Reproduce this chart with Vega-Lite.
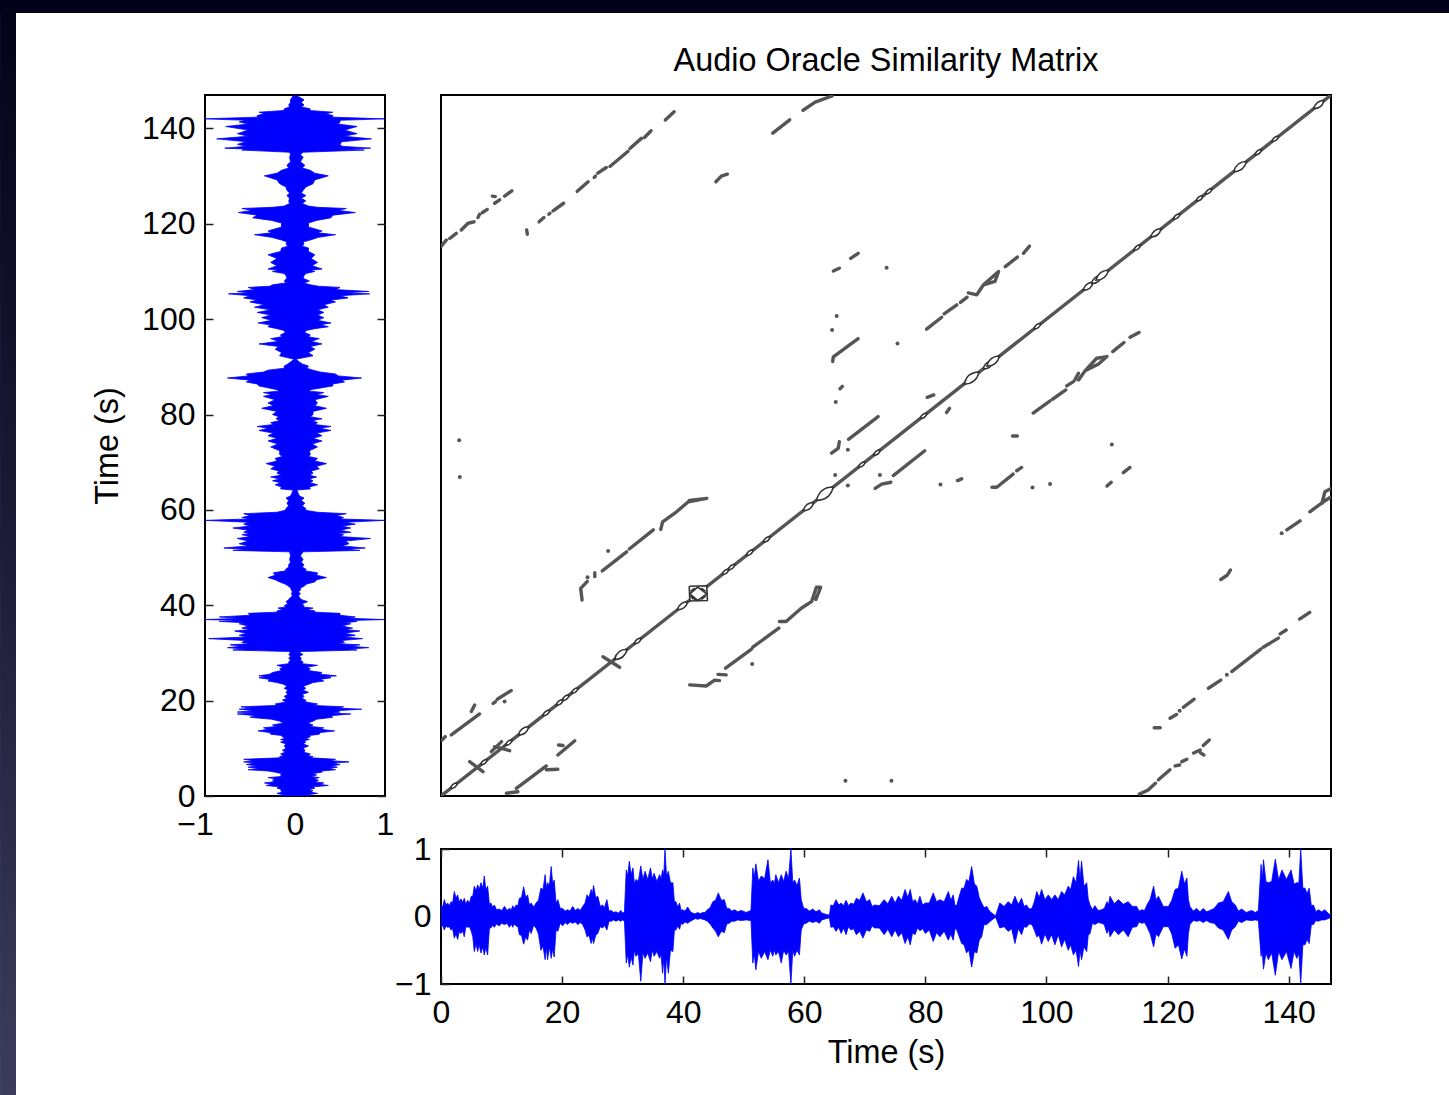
{
"$schema":"https://vega.github.io/schema/vega-lite/v6.json",
"background":"white","padding":0,
"align":"each","bounds":"flush","columns":2,"spacing":{"column":56,"row":53},
"config":{"font":"Liberation Sans","axis":{"labelFont":"Liberation Sans","titleFont":"Liberation Sans","labelFontSize":32,"titleFontSize":32.4,"titleFontWeight":"normal","labelColor":"#000","titleColor":"#000","tickColor":"#222","tickWidth":1.5,"tickSize":-8,"domain":false,"grid":false,"labelPadding":18,"labelOverlap":false,"labelFlush":false},"title":{"font":"Liberation Sans","fontSize":32.4,"fontWeight":"normal","color":"#000"}},
"datasets":{
"frame":[{"x":-1.1388,"x2":-1.05,"y":-0.8222,"y2":7.2888}],
"frametop":[{"x":-1.1388,"x2":6.9111,"y":7.193,"y2":7.2888}],
"one":[{"a":0,"b":0}],
"wave":[
{"t":0,"hi":0.17,"lo":-0.17},{"t":0.28,"hi":0.14,"lo":-0.13},{"t":0.55,"hi":0.25,"lo":-0.2},{"t":0.82,"hi":0.17,"lo":-0.14},{"t":1.1,"hi":0.2,"lo":-0.16},{"t":1.38,"hi":0.16,"lo":-0.15},{"t":1.65,"hi":0.22,"lo":-0.2},{"t":1.92,"hi":0.2,"lo":-0.18},{"t":2.2,"hi":0.37,"lo":-0.32},{"t":2.48,"hi":0.27,"lo":-0.26},{"t":2.75,"hi":0.32,"lo":-0.34},{"t":3,"hi":0.22,"lo":-0.23},{"t":3.3,"hi":0.26,"lo":-0.25},{"t":3.6,"hi":0.21,"lo":-0.22},{"t":3.85,"hi":0.27,"lo":-0.3},{"t":4.1,"hi":0.18,"lo":-0.15},{"t":4.4,"hi":0.24,"lo":-0.16},{"t":4.7,"hi":0.2,"lo":-0.15},{"t":5,"hi":0.3,"lo":-0.22},{"t":5.25,"hi":0.3,"lo":-0.3},{"t":5.5,"hi":0.45,"lo":-0.52},{"t":5.8,"hi":0.38,"lo":-0.4},{"t":6.05,"hi":0.47,"lo":-0.52},{"t":6.3,"hi":0.4,"lo":-0.42},{"t":6.6,"hi":0.5,"lo":-0.54},{"t":6.9,"hi":0.42,"lo":-0.45},{"t":7.15,"hi":0.6,"lo":-0.57},{"t":7.4,"hi":0.4,"lo":-0.46},{"t":7.7,"hi":0.45,"lo":-0.57},{"t":8,"hi":0.18,"lo":-0.17},{"t":8.25,"hi":0.2,"lo":-0.17},{"t":8.5,"hi":0.14,"lo":-0.13},{"t":8.8,"hi":0.17,"lo":-0.16},{"t":9.2,"hi":0.1,"lo":-0.11},{"t":9.6,"hi":0.11,"lo":-0.14},{"t":10,"hi":0.09,"lo":-0.1},{"t":10.5,"hi":0.15,"lo":-0.12},{"t":10.9,"hi":0.09,"lo":-0.1},{"t":11.3,"hi":0.12,"lo":-0.16},{"t":11.6,"hi":0.1,"lo":-0.11},{"t":11.85,"hi":0.16,"lo":-0.16},{"t":12.1,"hi":0.12,"lo":-0.11},{"t":12.4,"hi":0.17,"lo":-0.14},{"t":12.7,"hi":0.16,"lo":-0.15},{"t":12.95,"hi":0.27,"lo":-0.27},{"t":13.3,"hi":0.28,"lo":-0.28},{"t":13.65,"hi":0.44,"lo":-0.41},{"t":14,"hi":0.28,"lo":-0.3},{"t":14.3,"hi":0.32,"lo":-0.35},{"t":14.6,"hi":0.17,"lo":-0.2},{"t":14.9,"hi":0.2,"lo":-0.25},{"t":15.3,"hi":0.14,"lo":-0.13},{"t":15.7,"hi":0.2,"lo":-0.17},{"t":16.1,"hi":0.24,"lo":-0.26},{"t":16.5,"hi":0.42,"lo":-0.5},{"t":16.85,"hi":0.4,"lo":-0.44},{"t":17.2,"hi":0.62,"lo":-0.64},{"t":17.4,"hi":0.42,"lo":-0.45},{"t":17.6,"hi":0.5,"lo":-0.64},{"t":17.9,"hi":0.46,"lo":-0.45},{"t":18.2,"hi":0.74,"lo":-0.62},{"t":18.45,"hi":0.48,"lo":-0.48},{"t":18.7,"hi":0.54,"lo":-0.6},{"t":19,"hi":0.2,"lo":-0.2},{"t":19.3,"hi":0.25,"lo":-0.22},{"t":19.7,"hi":0.12,"lo":-0.1},{"t":20.1,"hi":0.12,"lo":-0.14},{"t":20.5,"hi":0.08,"lo":-0.09},{"t":20.9,"hi":0.1,"lo":-0.12},{"t":21.3,"hi":0.08,"lo":-0.08},{"t":21.75,"hi":0.15,"lo":-0.1},{"t":22.2,"hi":0.09,"lo":-0.08},{"t":22.6,"hi":0.12,"lo":-0.12},{"t":23,"hi":0.09,"lo":-0.09},{"t":23.4,"hi":0.15,"lo":-0.12},{"t":23.8,"hi":0.2,"lo":-0.2},{"t":24.1,"hi":0.32,"lo":-0.3},{"t":24.45,"hi":0.28,"lo":-0.28},{"t":24.8,"hi":0.4,"lo":-0.4},{"t":25,"hi":0.33,"lo":-0.32},{"t":25.2,"hi":0.46,"lo":-0.4},{"t":25.55,"hi":0.28,"lo":-0.28},{"t":25.9,"hi":0.3,"lo":-0.25},{"t":26.3,"hi":0.15,"lo":-0.15},{"t":26.7,"hi":0.17,"lo":-0.17},{"t":27,"hi":0.13,"lo":-0.13},{"t":27.4,"hi":0.25,"lo":-0.2},{"t":27.75,"hi":0.08,"lo":-0.07},{"t":28.1,"hi":0.09,"lo":-0.07},{"t":28.5,"hi":0.06,"lo":-0.05},{"t":28.9,"hi":0.07,"lo":-0.07},{"t":29.3,"hi":0.05,"lo":-0.05},{"t":29.7,"hi":0.09,"lo":-0.07},{"t":30,"hi":0.05,"lo":-0.05},{"t":30.3,"hi":0.07,"lo":-0.07},{"t":30.6,"hi":0.69,"lo":-0.69},{"t":30.85,"hi":0.6,"lo":-0.56},{"t":31.1,"hi":0.82,"lo":-0.75},{"t":31.4,"hi":0.62,"lo":-0.6},{"t":31.7,"hi":0.72,"lo":-0.72},{"t":31.95,"hi":0.48,"lo":-0.5},{"t":32.2,"hi":0.55,"lo":-0.59},{"t":32.6,"hi":0.52,"lo":-0.55},{"t":33,"hi":0.75,"lo":-0.96},{"t":33.35,"hi":0.55,"lo":-0.54},{"t":33.7,"hi":0.67,"lo":-0.62},{"t":34.15,"hi":0.55,"lo":-0.54},{"t":34.6,"hi":0.72,"lo":-0.67},{"t":34.9,"hi":0.56,"lo":-0.5},{"t":35.2,"hi":0.64,"lo":-0.59},{"t":35.65,"hi":0.52,"lo":-0.52},{"t":36.1,"hi":0.62,"lo":-0.62},{"t":36.35,"hi":0.56,"lo":-0.56},{"t":36.6,"hi":0.69,"lo":-0.84},{"t":36.8,"hi":0.62,"lo":-0.62},{"t":37,"hi":1,"lo":-1},{"t":37.25,"hi":0.6,"lo":-0.6},{"t":37.55,"hi":0.67,"lo":-0.84},{"t":37.9,"hi":0.5,"lo":-0.5},{"t":38.3,"hi":0.5,"lo":-0.52},{"t":38.55,"hi":0.22,"lo":-0.2},{"t":38.8,"hi":0.22,"lo":-0.2},{"t":39.1,"hi":0.14,"lo":-0.14},{"t":39.4,"hi":0.2,"lo":-0.19},{"t":39.65,"hi":0.09,"lo":-0.1},{"t":39.9,"hi":0.1,"lo":-0.12},{"t":40.3,"hi":0.08,"lo":-0.08},{"t":40.75,"hi":0.14,"lo":-0.1},{"t":41.2,"hi":0.07,"lo":-0.07},{"t":41.6,"hi":0.05,"lo":-0.05},{"t":42,"hi":0.04,"lo":-0.03},{"t":42.4,"hi":0.06,"lo":-0.04},{"t":42.8,"hi":0.04,"lo":-0.03},{"t":43.2,"hi":0.06,"lo":-0.04},{"t":43.6,"hi":0.06,"lo":-0.05},{"t":44,"hi":0.1,"lo":-0.07},{"t":44.45,"hi":0.13,"lo":-0.11},{"t":44.9,"hi":0.22,"lo":-0.17},{"t":45.35,"hi":0.24,"lo":-0.22},{"t":45.8,"hi":0.35,"lo":-0.3},{"t":46.3,"hi":0.24,"lo":-0.22},{"t":46.8,"hi":0.25,"lo":-0.24},{"t":47.2,"hi":0.12,"lo":-0.11},{"t":47.6,"hi":0.12,"lo":-0.1},{"t":48,"hi":0.08,"lo":-0.07},{"t":48.5,"hi":0.1,"lo":-0.07},{"t":49,"hi":0.07,"lo":-0.05},{"t":49.6,"hi":0.09,"lo":-0.06},{"t":50.4,"hi":0.06,"lo":-0.05},{"t":51.2,"hi":0.09,"lo":-0.06},{"t":51.5,"hi":0.72,"lo":-0.69},{"t":51.75,"hi":0.58,"lo":-0.55},{"t":52,"hi":0.78,"lo":-0.79},{"t":52.45,"hi":0.52,"lo":-0.52},{"t":52.9,"hi":0.6,"lo":-0.62},{"t":53.45,"hi":0.56,"lo":-0.52},{"t":54,"hi":0.84,"lo":-0.64},{"t":54.4,"hi":0.5,"lo":-0.5},{"t":54.8,"hi":0.54,"lo":-0.59},{"t":55.05,"hi":0.48,"lo":-0.5},{"t":55.3,"hi":0.62,"lo":-0.57},{"t":55.75,"hi":0.5,"lo":-0.52},{"t":56.2,"hi":0.62,"lo":-0.69},{"t":56.6,"hi":0.52,"lo":-0.5},{"t":57,"hi":0.67,"lo":-0.57},{"t":57.4,"hi":0.56,"lo":-0.52},{"t":57.8,"hi":1,"lo":-1},{"t":58.1,"hi":0.5,"lo":-0.5},{"t":58.4,"hi":0.54,"lo":-0.59},{"t":58.8,"hi":0.46,"lo":-0.5},{"t":59.2,"hi":0.57,"lo":-0.57},{"t":59.5,"hi":0.25,"lo":-0.2},{"t":59.9,"hi":0.12,"lo":-0.11},{"t":60.3,"hi":0.12,"lo":-0.1},{"t":60.85,"hi":0.08,"lo":-0.07},{"t":61.4,"hi":0.11,"lo":-0.09},{"t":61.95,"hi":0.07,"lo":-0.07},{"t":62.5,"hi":0.1,"lo":-0.1},{"t":62.9,"hi":0.05,"lo":-0.05},{"t":63.3,"hi":0.04,"lo":-0.04},{"t":64.15,"hi":0.02,"lo":-0.02},{"t":64.4,"hi":0.17,"lo":-0.16},{"t":64.8,"hi":0.16,"lo":-0.15},{"t":65.25,"hi":0.25,"lo":-0.22},{"t":65.7,"hi":0.17,"lo":-0.16},{"t":66.1,"hi":0.2,"lo":-0.25},{"t":66.5,"hi":0.16,"lo":-0.17},{"t":66.9,"hi":0.24,"lo":-0.27},{"t":67.3,"hi":0.16,"lo":-0.15},{"t":67.7,"hi":0.2,"lo":-0.2},{"t":68.15,"hi":0.18,"lo":-0.18},{"t":68.6,"hi":0.27,"lo":-0.27},{"t":69.15,"hi":0.24,"lo":-0.22},{"t":69.7,"hi":0.35,"lo":-0.32},{"t":70.25,"hi":0.22,"lo":-0.2},{"t":70.8,"hi":0.25,"lo":-0.22},{"t":71.2,"hi":0.15,"lo":-0.14},{"t":71.6,"hi":0.17,"lo":-0.17},{"t":72.4,"hi":0.16,"lo":-0.17},{"t":73.2,"hi":0.25,"lo":-0.27},{"t":73.8,"hi":0.19,"lo":-0.19},
{"t":74.45,"hi":0.3,"lo":-0.3},{"t":75,"hi":0.2,"lo":-0.2},{"t":75.55,"hi":0.3,"lo":-0.3},{"t":76.1,"hi":0.24,"lo":-0.24},{"t":76.65,"hi":0.4,"lo":-0.4},{"t":77.1,"hi":0.28,"lo":-0.3},{"t":77.5,"hi":0.4,"lo":-0.42},{"t":77.9,"hi":0.22,"lo":-0.24},{"t":78.3,"hi":0.25,"lo":-0.27},{"t":78.7,"hi":0.19,"lo":-0.17},{"t":79.1,"hi":0.3,"lo":-0.21},{"t":79.55,"hi":0.17,"lo":-0.18},{"t":80,"hi":0.2,"lo":-0.25},{"t":80.65,"hi":0.2,"lo":-0.2},{"t":81.3,"hi":0.35,"lo":-0.37},{"t":81.85,"hi":0.22,"lo":-0.24},{"t":82.4,"hi":0.25,"lo":-0.3},{"t":83.1,"hi":0.22,"lo":-0.22},{"t":83.8,"hi":0.37,"lo":-0.35},{"t":84.2,"hi":0.24,"lo":-0.26},{"t":84.6,"hi":0.32,"lo":-0.35},{"t":84.9,"hi":0.16,"lo":-0.18},{"t":85.2,"hi":0.17,"lo":-0.2},{"t":85.6,"hi":0.3,"lo":-0.3},{"t":86,"hi":0.42,"lo":-0.4},{"t":86.4,"hi":0.42,"lo":-0.42},{"t":86.8,"hi":0.55,"lo":-0.54},{"t":87.2,"hi":0.52,"lo":-0.5},{"t":87.65,"hi":0.74,"lo":-0.75},{"t":88.1,"hi":0.48,"lo":-0.52},{"t":88.5,"hi":0.45,"lo":-0.54},{"t":88.9,"hi":0.28,"lo":-0.35},{"t":89.3,"hi":0.2,"lo":-0.3},{"t":89.7,"hi":0.13,"lo":-0.12},{"t":90.15,"hi":0.15,"lo":-0.12},{"t":90.6,"hi":0.08,"lo":-0.08},{"t":91,"hi":0.05,"lo":-0.05},{"t":91.6,"hi":0.01,"lo":-0.01},{"t":92.3,"hi":0.2,"lo":-0.17},{"t":93,"hi":0.15,"lo":-0.15},{"t":93.7,"hi":0.22,"lo":-0.22},{"t":94.25,"hi":0.17,"lo":-0.18},{"t":94.8,"hi":0.3,"lo":-0.4},{"t":95.35,"hi":0.18,"lo":-0.18},{"t":95.9,"hi":0.27,"lo":-0.27},{"t":96.3,"hi":0.15,"lo":-0.15},{"t":96.7,"hi":0.17,"lo":-0.16},{"t":97.15,"hi":0.11,"lo":-0.11},{"t":97.6,"hi":0.12,"lo":-0.12},{"t":98,"hi":0.22,"lo":-0.2},{"t":98.4,"hi":0.37,"lo":-0.3},{"t":98.8,"hi":0.28,"lo":-0.28},{"t":99.2,"hi":0.4,"lo":-0.41},{"t":99.75,"hi":0.25,"lo":-0.26},{"t":100.3,"hi":0.32,"lo":-0.37},{"t":100.85,"hi":0.25,"lo":-0.27},{"t":101.4,"hi":0.32,"lo":-0.42},{"t":101.95,"hi":0.25,"lo":-0.27},{"t":102.5,"hi":0.37,"lo":-0.45},{"t":103,"hi":0.32,"lo":-0.34},{"t":103.6,"hi":0.45,"lo":-0.5},{"t":104,"hi":0.4,"lo":-0.42},{"t":104.45,"hi":0.59,"lo":-0.57},{"t":104.9,"hi":0.5,"lo":-0.5},{"t":105.3,"hi":0.83,"lo":-0.74},{"t":105.55,"hi":0.55,"lo":-0.5},{"t":105.8,"hi":0.82,"lo":-0.64},{"t":106.2,"hi":0.45,"lo":-0.45},{"t":106.65,"hi":0.5,"lo":-0.52},{"t":106.9,"hi":0.26,"lo":-0.28},{"t":107.2,"hi":0.17,"lo":-0.25},{"t":107.6,"hi":0.1,"lo":-0.1},{"t":108,"hi":0.16,"lo":-0.12},{"t":108.55,"hi":0.09,"lo":-0.09},{"t":109.1,"hi":0.1,"lo":-0.1},{"t":109.55,"hi":0.12,"lo":-0.12},{"t":110,"hi":0.22,"lo":-0.25},{"t":110.25,"hi":0.17,"lo":-0.18},{"t":110.5,"hi":0.3,"lo":-0.3},{"t":111.2,"hi":0.19,"lo":-0.2},{"t":111.9,"hi":0.25,"lo":-0.27},{"t":112.7,"hi":0.18,"lo":-0.2},{"t":113.5,"hi":0.22,"lo":-0.3},{"t":114.2,"hi":0.15,"lo":-0.16},{"t":114.9,"hi":0.15,"lo":-0.15},{"t":115.3,"hi":0.08,"lo":-0.08},{"t":115.75,"hi":0.1,"lo":-0.1},{"t":116.2,"hi":0.09,"lo":-0.09},{"t":116.6,"hi":0.17,"lo":-0.15},{"t":117.15,"hi":0.26,"lo":-0.26},{"t":117.7,"hi":0.45,"lo":-0.45},{"t":118.1,"hi":0.25,"lo":-0.26},{"t":118.5,"hi":0.3,"lo":-0.3},{"t":119.3,"hi":0.15,"lo":-0.15},{"t":120.15,"hi":0.15,"lo":-0.15},{"t":120.7,"hi":0.24,"lo":-0.26},{"t":121.25,"hi":0.4,"lo":-0.47},{"t":121.8,"hi":0.42,"lo":-0.42},{"t":122.35,"hi":0.67,"lo":-0.63},{"t":122.8,"hi":0.48,"lo":-0.48},{"t":123.2,"hi":0.57,"lo":-0.59},{"t":123.45,"hi":0.25,"lo":-0.25},{"t":123.7,"hi":0.15,"lo":-0.12},{"t":124.25,"hi":0.08,"lo":-0.06},{"t":124.8,"hi":0.12,"lo":-0.07},{"t":125.35,"hi":0.07,"lo":-0.06},{"t":125.9,"hi":0.12,"lo":-0.09},{"t":126.45,"hi":0.07,"lo":-0.06},{"t":127,"hi":0.09,"lo":-0.09},{"t":127.7,"hi":0.12,"lo":-0.1},{"t":128.4,"hi":0.2,"lo":-0.17},{"t":129.2,"hi":0.22,"lo":-0.2},{"t":130.05,"hi":0.37,"lo":-0.34},{"t":130.6,"hi":0.22,"lo":-0.2},{"t":131.2,"hi":0.17,"lo":-0.15},{"t":131.7,"hi":0.08,"lo":-0.07},{"t":132.25,"hi":0.11,"lo":-0.09},{"t":133,"hi":0.06,"lo":-0.05},{"t":133.9,"hi":0.09,"lo":-0.06},{"t":134.5,"hi":0.06,"lo":-0.05},{"t":135,"hi":0.09,"lo":-0.06},{"t":135.45,"hi":0.77,"lo":-0.59},{"t":135.65,"hi":0.55,"lo":-0.52},{"t":135.85,"hi":0.84,"lo":-0.78},{"t":136.25,"hi":0.52,"lo":-0.54},{"t":136.65,"hi":0.5,"lo":-0.64},{"t":137.2,"hi":0.52,"lo":-0.54},{"t":137.8,"hi":0.85,"lo":-0.87},{"t":138.35,"hi":0.54,"lo":-0.52},{"t":138.9,"hi":0.69,"lo":-0.64},{"t":139.65,"hi":0.55,"lo":-0.52},{"t":140.4,"hi":0.69,"lo":-0.77},{"t":140.9,"hi":0.48,"lo":-0.52},{"t":141.35,"hi":0.5,"lo":-0.62},{"t":141.7,"hi":0.5,"lo":-0.55},{"t":142,"hi":1,"lo":-1},{"t":142.35,"hi":0.42,"lo":-0.42},{"t":142.7,"hi":0.42,"lo":-0.42},{"t":143.05,"hi":0.34,"lo":-0.34},{"t":143.4,"hi":0.42,"lo":-0.4},{"t":143.75,"hi":0.16,"lo":-0.12},{"t":144.1,"hi":0.17,"lo":-0.12},{"t":144.5,"hi":0.07,"lo":-0.06},{"t":144.9,"hi":0.1,"lo":-0.07},{"t":145.45,"hi":0.07,"lo":-0.05},{"t":146,"hi":0.1,"lo":-0.05},{"t":146.85,"hi":0.02,"lo":-0.02}
],
"segs":[
{"s":"d1","x":0,"y":0},{"s":"d1","x":41,"y":41},{"s":"d2","x":44,"y":44},{"s":"d2","x":147,"y":147},
{"s":"a1","x":0.05,"y":115.3},{"s":"a1","x":0.88,"y":116.6},{"s":"a2","x":1.43,"y":116.9},{"s":"a2","x":2.53,"y":118},{"s":"a3","x":3.35,"y":118.7},{"s":"a3","x":4.46,"y":120.1},{"s":"a3","x":5.45,"y":120.4},{"s":"a4","x":6.1,"y":121.3},{"s":"a4","x":6.38,"y":122},{"s":"a5","x":6.82,"y":122.3},{"s":"a5","x":7.65,"y":123},{"s":"a6","x":8.48,"y":125.8},{"s":"a6","x":8.97,"y":125.7},{"s":"a7","x":8.86,"y":124.3},{"s":"a7","x":9.69,"y":125},{"s":"a8","x":10.5,"y":125.8},{"s":"a8","x":11.7,"y":126.9},
{"s":"b1","x":14.15,"y":118.7},{"s":"b1","x":14.26,"y":117.8},{"s":"b2","x":16.2,"y":120.4},{"s":"b2","x":17,"y":121.3},{"s":"b3","x":17.8,"y":122},{"s":"b3","x":18,"y":122.2},{"s":"b4","x":18.5,"y":122.7},{"s":"b4","x":20.26,"y":124.3},{"s":"b5","x":22.5,"y":126.8},{"s":"b5","x":24.3,"y":128.8},{"s":"b6","x":25.3,"y":129.7},{"s":"b6","x":25.5,"y":130},{"s":"b7","x":25.9,"y":130.6},{"s":"b7","x":27.3,"y":131.8},{"s":"b8","x":27.9,"y":132},{"s":"b8","x":30.9,"y":135.2},{"s":"b9","x":31.2,"y":135.8},{"s":"b9","x":33.1,"y":137.9},{"s":"b10","x":33.6,"y":138.1},{"s":"b10","x":34.7,"y":139.5},{"s":"b11","x":37.05,"y":141.75},{"s":"b11","x":38.5,"y":143.5},
{"s":"c1","x":45.4,"y":128.8},{"s":"c1","x":46.3,"y":130},{"s":"c1","x":47.3,"y":130.4},
{"s":"c2","x":54.8,"y":139},{"s":"c2","x":57.6,"y":141.8},{"s":"c3","x":59.8,"y":143.8},{"s":"c3","x":61.8,"y":145.5},{"s":"c3","x":64.6,"y":146.8},
{"s":"e1","x":0.16,"y":11.75},{"s":"e1","x":0.71,"y":12.45},{"s":"e2","x":1.7,"y":12.8},{"s":"e2","x":6.38,"y":17.2},{"s":"e3","x":5,"y":17.7},{"s":"e3","x":5.56,"y":19.1},{"s":"e4","x":8.6,"y":19.4},{"s":"e4","x":9,"y":19.8},{"s":"e5","x":9.3,"y":20.3},{"s":"e5","x":11.6,"y":22.1},
{"s":"f1","x":4.73,"y":7.2},{"s":"f1","x":6.93,"y":5.1},{"s":"f2","x":8.3,"y":9.3},{"s":"f2","x":10,"y":11.4},{"s":"f3","x":8.86,"y":10.35},{"s":"f3","x":11.34,"y":9.5},{"s":"f4","x":26.76,"y":29.2},{"s":"f4","x":29.5,"y":27},
{"s":"g1","x":19.3,"y":8.6},{"s":"g1","x":22.1,"y":11.6},{"s":"g2","x":19.4,"y":10.7},{"s":"g2","x":20.15,"y":10.6},{"s":"g3","x":10.8,"y":0.57},{"s":"g3","x":12.7,"y":0.9},{"s":"g4","x":12.44,"y":1.6},{"s":"g4","x":17.4,"y":6.3},{"s":"g5","x":17.4,"y":5.5},{"s":"g5","x":19.3,"y":5.6},
{"s":"h1","x":23.3,"y":41.1},{"s":"h1","x":23.07,"y":43.55},{"s":"h1","x":24.17,"y":45},{"s":"h2","x":25.4,"y":46},{"s":"h2","x":25.4,"y":46.8},{"s":"h3","x":26.64,"y":47.2},{"s":"h3","x":30.66,"y":51.2},{"s":"h4","x":31.1,"y":51.8},{"s":"h4","x":35.07,"y":55.8},{"s":"h5","x":36.3,"y":55.9},{"s":"h5","x":36.6,"y":57.5},{"s":"h5","x":38.9,"y":59.6},{"s":"h5","x":40.85,"y":61.7},{"s":"h5","x":43.9,"y":62.4},{"s":"h5","x":41,"y":62},
{"s":"i1","x":41.07,"y":23.3},{"s":"i1","x":43.8,"y":23.07},{"s":"i1","x":45.2,"y":24.3},{"s":"i1","x":46,"y":24.2},{"s":"i2","x":45.75,"y":25.5},{"s":"i2","x":47.1,"y":25.4},{"s":"i3","x":47,"y":26.8},{"s":"i3","x":51.3,"y":30.8},{"s":"i4","x":51.5,"y":31.2},{"s":"i4","x":55.8,"y":35.2},{"s":"i5","x":55.9,"y":36.6},{"s":"i5","x":57,"y":36.6},{"s":"i5","x":59.5,"y":39.36},{"s":"i5","x":61.2,"y":40.75},{"s":"i5","x":62,"y":43.76},{"s":"i5","x":62.7,"y":43.76},{"s":"i5","x":61.9,"y":41.2},
{"s":"j1","x":80.2,"y":97.9},{"s":"j1","x":82.7,"y":100.4},{"s":"j2","x":83.1,"y":101.1},{"s":"j2","x":85.2,"y":103},{"s":"j3","x":85.8,"y":103.5},{"s":"j3","x":86.9,"y":104.6},{"s":"j4","x":87.1,"y":105.5},{"s":"j4","x":88.5,"y":105.1},{"s":"j4","x":89.6,"y":107.2},{"s":"j4","x":92.1,"y":110},{"s":"j4","x":91.5,"y":107.9},{"s":"j4","x":89.6,"y":107.2},{"s":"j5","x":93.2,"y":111},{"s":"j5","x":95.2,"y":113},{"s":"j6","x":96.2,"y":113.8},{"s":"j6","x":97.2,"y":115.3},
{"s":"k1","x":97.8,"y":80.3},{"s":"k1","x":100.6,"y":82.85},{"s":"k2","x":101,"y":83.2},{"s":"k2","x":103.2,"y":85.15},{"s":"k3","x":103.35,"y":86},{"s":"k3","x":104.45,"y":86.9},{"s":"k4","x":104.7,"y":87.25},{"s":"k4","x":105.3,"y":88.65},{"s":"k5","x":105.3,"y":87.25},{"s":"k5","x":106.4,"y":89.2},{"s":"k5","x":108.3,"y":91.8},{"s":"k5","x":110,"y":92.15},{"s":"k5","x":108.6,"y":90.6},{"s":"k5","x":106.4,"y":89.2},{"s":"k6","x":110.95,"y":93.2},{"s":"k6","x":112.8,"y":95.1},{"s":"k7","x":113.8,"y":96.2},{"s":"k7","x":115.3,"y":97.2},
{"s":"l1","x":67.67,"y":112.75},{"s":"l1","x":68.9,"y":113.8},{"s":"l2","x":64.8,"y":110.1},{"s":"l2","x":65.8,"y":110.66},{"s":"l3","x":64.7,"y":91.1},{"s":"l3","x":64.8,"y":92.1},{"s":"l3","x":68.9,"y":95.9},{"s":"l4","x":65.9,"y":85.4},{"s":"l4","x":66.3,"y":85.9},{"s":"l5","x":64.5,"y":71.9},{"s":"l5","x":65.6,"y":72.9},{"s":"l5","x":65.8,"y":74.3},{"s":"l6","x":67.3,"y":74.8},{"s":"l6","x":72.2,"y":79.55},{"s":"l7","x":71.7,"y":64.5},{"s":"l7","x":72.8,"y":65.4},{"s":"l7","x":74.3,"y":65.8},{"s":"l8","x":74.7,"y":67.2},{"s":"l8","x":79.9,"y":72.4},{"s":"l9","x":80.3,"y":83.6},{"s":"l9","x":81.4,"y":84.1},{"s":"l10","x":83.5,"y":80.4},{"s":"l10","x":84,"y":81.3},{"s":"l11","x":85.3,"y":66.15},{"s":"l11","x":86,"y":66.5},{"s":"l12","x":91,"y":64.75},{"s":"l12","x":91.8,"y":64.75},{"s":"l12","x":94.5,"y":67.5},{"s":"l13","x":95.1,"y":68.2},{"s":"l13","x":95.9,"y":68.9},{"s":"l14","x":94.4,"y":75.5},{"s":"l14","x":95.2,"y":75.5},{"s":"l15","x":110,"y":65},{"s":"l15","x":110.7,"y":65.8},{"s":"l16","x":112.7,"y":67.8},{"s":"l16","x":113.8,"y":68.9},
{"s":"m1","x":139.7,"y":55.8},{"s":"m1","x":141.9,"y":57.7},{"s":"m2","x":143.5,"y":59.6},{"s":"m2","x":145.75,"y":61.7},{"s":"m2","x":146.85,"y":62.6},{"s":"m3","x":145.5,"y":61.4},{"s":"m3","x":146,"y":63.8},{"s":"m3","x":147,"y":64.5},{"s":"m4","x":128.8,"y":45.4},{"s":"m4","x":129.9,"y":46.35},{"s":"m4","x":130.4,"y":47.4},
{"s":"n1","x":141.8,"y":37.1},{"s":"n1","x":143.5,"y":38.5},{"s":"n2","x":138.6,"y":34},{"s":"n2","x":139.6,"y":34.8},{"s":"n3","x":135.8,"y":31.2},{"s":"n3","x":138.3,"y":33.1},{"s":"n4","x":130.6,"y":26.1},{"s":"n4","x":135.4,"y":30.8},{"s":"n5","x":126.75,"y":22.6},{"s":"n5","x":128.8,"y":24.3},{"s":"n6","x":120.4,"y":16.3},{"s":"n6","x":121.5,"y":17.1},{"s":"n7","x":122.6,"y":18.6},{"s":"n7","x":124.4,"y":20.3},{"s":"n8","x":117.8,"y":14.3},{"s":"n8","x":118.8,"y":14.3},
{"s":"o1","x":115.35,"y":0.4},{"s":"o1","x":116.8,"y":1.27},{"s":"o1","x":118,"y":2.67},{"s":"o2","x":118.5,"y":3.4},{"s":"o2","x":120.4,"y":5.5},{"s":"o3","x":121.25,"y":6.3},{"s":"o3","x":122,"y":6.5},{"s":"o4","x":122.35,"y":7.2},{"s":"o4","x":123.2,"y":7.7},{"s":"o5","x":124.3,"y":9},{"s":"o5","x":125.4,"y":9.65},{"s":"o6","x":125.4,"y":9.1},{"s":"o6","x":126,"y":8.6},{"s":"o7","x":125.9,"y":10.6},{"s":"o7","x":126.9,"y":11.75}
],
"thin":[
{"s":"r","x":41,"y":44},{"s":"r","x":43.9,"y":44.1},{"s":"r","x":44,"y":41},{"s":"r","x":41.1,"y":40.9},{"s":"r","x":41,"y":44},
{"s":"q","x":41.1,"y":42.4},{"s":"q","x":42.4,"y":43.8},{"s":"q","x":43.9,"y":42.4},{"s":"q","x":42.4,"y":41},{"s":"q","x":41.1,"y":42.4},
{"s":"h1","x":41.2,"y":42.9},{"s":"h1","x":41.9,"y":43.6},{"s":"h2","x":41.5,"y":41.6},{"s":"h2","x":42.1,"y":41.1},{"s":"h3","x":41.2,"y":41.9},{"s":"h3","x":41.7,"y":41.3},{"s":"h4","x":43,"y":43.6},{"s":"h4","x":43.7,"y":42.9},{"s":"h5","x":43,"y":41.2},{"s":"h5","x":43.7,"y":41.9}
],
"dots":[{"x":24.2,"y":45.85},{"x":27.6,"y":51.4},{"x":10.5,"y":19.8},{"x":51.4,"y":27.7},{"x":73.6,"y":110.8},{"x":65.35,"y":100.66},{"x":64.6,"y":97.7},{"x":75.4,"y":94.9},{"x":65.2,"y":82.6},{"x":67.2,"y":72.6},{"x":65.1,"y":67.3},{"x":67.2,"y":65.1},{"x":72.5,"y":67.3},{"x":82.5,"y":65.3},{"x":110.8,"y":73.7},{"x":97.7,"y":64.7},{"x":100.6,"y":65.45},{"x":138.85,"y":55.1},{"x":129.8,"y":25.45},{"x":122,"y":17.9},{"x":3,"y":74.6},{"x":3.1,"y":66.9},{"x":66.8,"y":3.2},{"x":74.4,"y":3.2}],
"loops":[{"t":2.14,"e":1},{"t":7.1,"e":1},{"t":11.2,"e":1},{"t":13.65,"e":1.5},{"t":17.4,"e":1},{"t":19.6,"e":1},{"t":20.6,"e":1},{"t":22.1,"e":1},{"t":29.7,"e":2},{"t":32.5,"e":1},{"t":39.9,"e":1.5},{"t":47,"e":1},{"t":48,"e":1},{"t":51,"e":1},{"t":53.8,"e":1},{"t":60.7,"e":1.5},{"t":63.4,"e":3},{"t":69.5,"e":1},{"t":72,"e":1},{"t":79.7,"e":1},{"t":87.65,"e":2.5},{"t":90.4,"e":1.5},{"t":91.2,"e":2},{"t":98.5,"e":1},{"t":106.9,"e":1.5},{"t":108.3,"e":1.5},{"t":109.2,"e":2},{"t":115,"e":1},{"t":118.1,"e":1.5},{"t":121.5,"e":1},{"t":125.3,"e":1},{"t":126.8,"e":1},{"t":132,"e":2},{"t":135,"e":1},{"t":137.8,"e":1},{"t":145,"e":1.5}]
},
"concat":[
{"width":180,"height":701,"view":{"stroke":"#000","strokeWidth":2},
 "resolve":{"axis":{"x":"independent","y":"independent"}},
 "layer":[
 {"data":{"name":"wave"},"mark":{"type":"area","orient":"horizontal","color":"#0000ff","stroke":"#0000ff","strokeWidth":0.8,"clip":true},
  "encoding":{"y":{"field":"t","type":"quantitative","scale":{"domain":[0,147],"nice":false,"zero":false},"axis":{"values":[0,20,40,60,80,100,120,140],"title":"Time (s)","titlePadding":17}},
   "x":{"field":"lo","type":"quantitative","scale":{"domain":[-1,1],"nice":false,"zero":false},"axis":{"values":[-1,0,1],"format":".0f","title":null,"ticks":false,"labelPadding":13,"labelOffset":{"condition":{"test":"datum.value<0","value":-10},"value":0}}},"x2":{"field":"hi"}}},
 {"data":{"name":"one"},"mark":{"type":"point","opacity":0},
  "encoding":{"y":{"field":"a","type":"quantitative","scale":{"domain":[0,147],"nice":false,"zero":false},"axis":{"orient":"right","values":[0,20,40,60,80,100,120,140],"labels":false,"title":null}},
   "x":{"field":"b","type":"quantitative","axis":null}}}
 ]},
{"width":890,"height":701,"view":{"stroke":"#000","strokeWidth":2},
 "title":{"text":"Audio Oracle Similarity Matrix","anchor":"middle","offset":18},
 "encoding":{"x":{"field":"x","type":"quantitative","scale":{"domain":[0,147],"nice":false,"zero":false},"axis":null},"y":{"field":"y","type":"quantitative","scale":{"domain":[0,147],"nice":false,"zero":false},"axis":null}},
 "layer":[
 {"data":{"name":"segs"},"mark":{"type":"line","color":"#555555","strokeWidth":3.4,"strokeCap":"round","strokeJoin":"round","clip":true},"encoding":{"detail":{"field":"s"},"order":{"value":null}}},
 {"data":{"name":"dots"},"mark":{"type":"point","filled":true,"color":"#555555","opacity":1,"size":16}},
 {"data":{"name":"thin"},"mark":{"type":"line","color":"#333333","strokeWidth":1.6},"encoding":{"detail":{"field":"s"},"order":{"value":null}}},
 {"data":{"name":"loops"},"mark":{"type":"point","filled":true,"fill":"#ffffff","stroke":"#333333","strokeWidth":1.5,"opacity":1,"shape":"M-1,0.8Q-0.6,-0.8,1,-0.8Q0.6,0.8,-1,0.8Z"},
  "encoding":{"x":{"field":"t","type":"quantitative"},"y":{"field":"t","type":"quantitative"},"size":{"field":"e","type":"quantitative","legend":null,"scale":{"domain":[1,3],"range":[45,280]}}}}
 ]},
{"width":180,"height":135,"view":{"stroke":null},
 "encoding":{"x":{"field":"x","type":"quantitative","scale":{"domain":[0,1],"nice":false,"zero":false},"axis":null},"y":{"field":"y","type":"quantitative","scale":{"domain":[0,1],"nice":false,"zero":false},"axis":null}},
 "layer":[
 {"data":{"name":"frame"},"mark":{"type":"rect","fill":{"gradient":"linear","x1":0,"y1":0,"x2":0,"y2":1,"stops":[{"offset":0,"color":"#020218"},{"offset":0.5,"color":"#1c1c38"},{"offset":1,"color":"#3c3c5c"}]}},"encoding":{"x2":{"field":"x2"},"y2":{"field":"y2"}}},
 {"data":{"name":"frametop"},"mark":{"type":"rect","fill":"#020218"},"encoding":{"x2":{"field":"x2"},"y2":{"field":"y2"}}}
 ]},
{"width":890,"height":135,"view":{"stroke":"#000","strokeWidth":2},
 "resolve":{"axis":{"x":"independent","y":"independent"}},
 "layer":[
 {"data":{"name":"wave"},"mark":{"type":"area","color":"#0000ff","stroke":"#0000ff","strokeWidth":0.8,"clip":true},
  "encoding":{"x":{"field":"t","type":"quantitative","scale":{"domain":[0,147],"nice":false,"zero":false},"axis":{"values":[0,20,40,60,80,100,120,140],"title":"Time (s)","titlePadding":8,"labelPadding":21}},
   "y":{"field":"lo","type":"quantitative","scale":{"domain":[-1,1],"nice":false,"zero":false},"axis":{"values":[-1,0,1],"format":".0f","title":null}},"y2":{"field":"hi"}}},
 {"data":{"name":"one"},"mark":{"type":"point","opacity":0},
  "encoding":{"x":{"field":"a","type":"quantitative","scale":{"domain":[0,147],"nice":false,"zero":false},"axis":{"orient":"top","values":[0,20,40,60,80,100,120,140],"labels":false,"title":null}},
   "y":{"field":"b","type":"quantitative","axis":null}}}
 ]}
]
}
